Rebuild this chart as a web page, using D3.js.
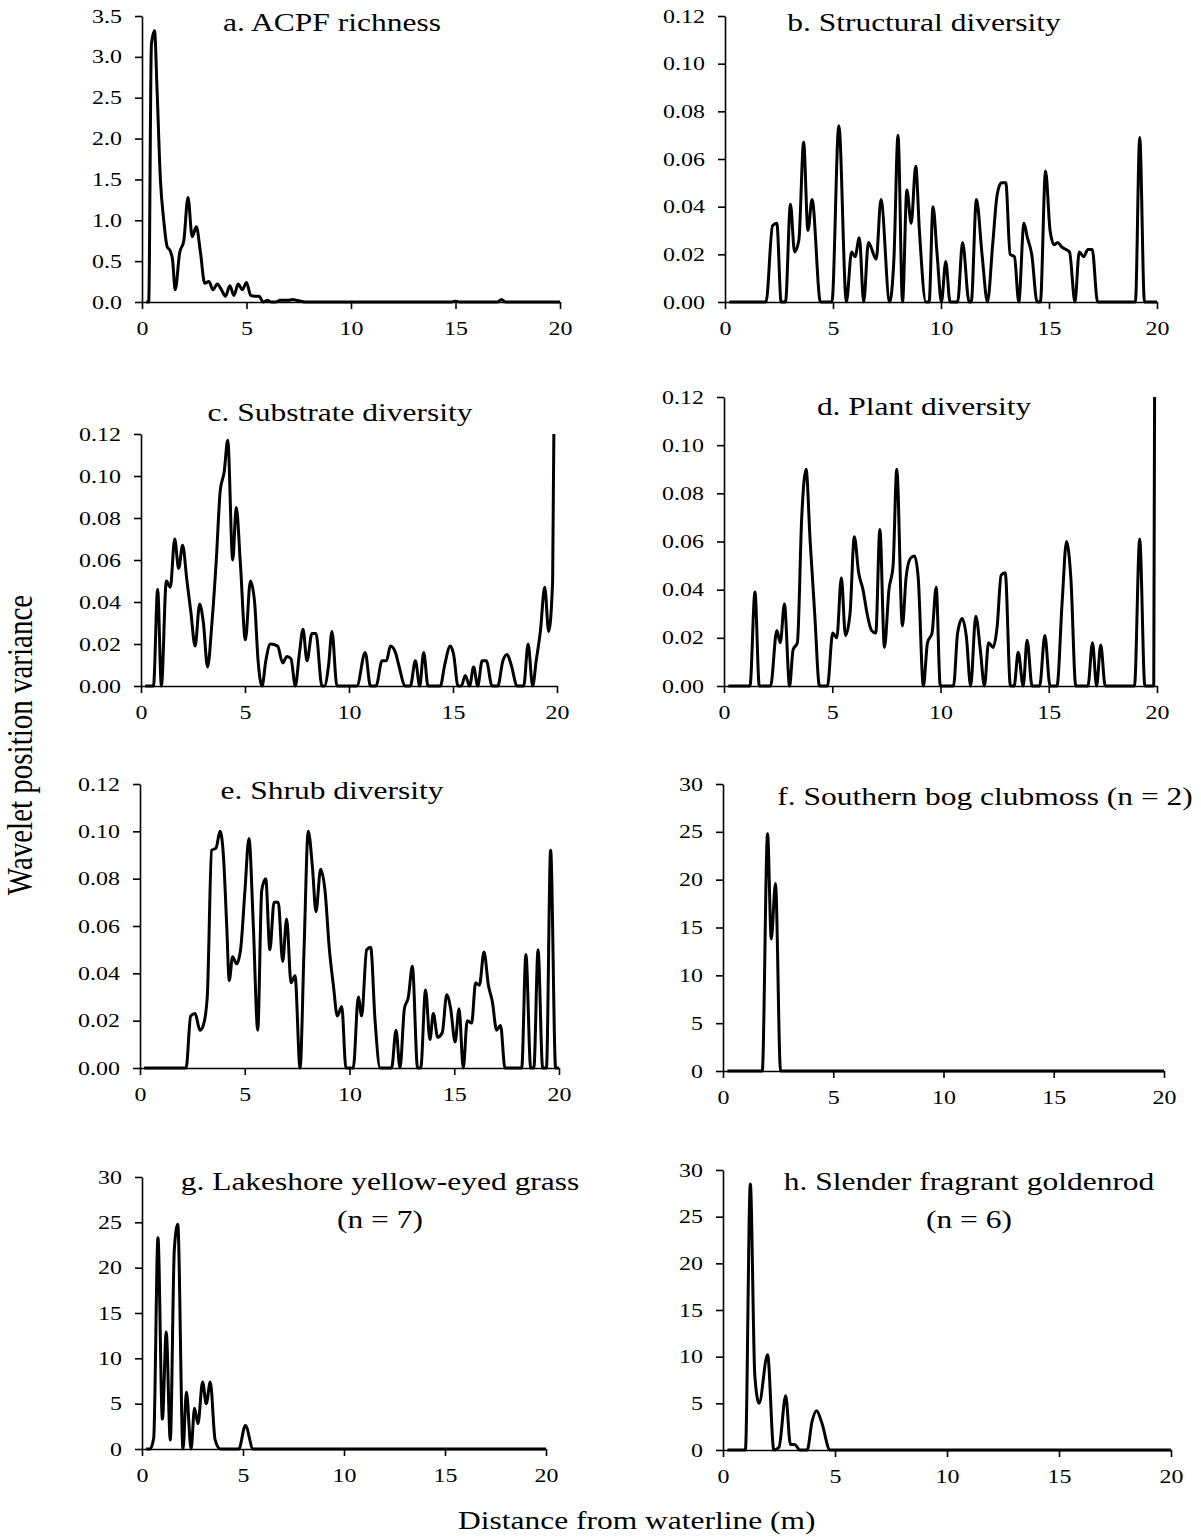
<!DOCTYPE html>
<html>
<head>
<meta charset="utf-8">
<script src="https://cdn.jsdelivr.net/npm/d3@7"></script>
<style>
  body { margin: 0; background: #fff; }
  svg { display: block; font-family: "Liberation Serif", "Times New Roman", serif; }
  .axis path, .axis line { stroke: #000; stroke-width: 1.6px; }
  .axis text { font-size: 19px; fill: #000; font-family: "Liberation Serif", serif; }
  .title { font-size: 25px; fill: #000; }
  .label { fill: #000; }
</style>
</head>
<body>
<svg id="chart" width="1201" height="1539"></svg>
<script>
"use strict";

// ---- data ----
var distanceTicks = [0, 5, 10, 15, 20]
var richnessTicks = [0, 0.5, 1, 1.5, 2, 2.5, 3, 3.5]
var diversityTicks = [0, 0.02, 0.04, 0.06, 0.08, 0.1, 0.12]
var speciesTicks = [0, 5, 10, 15, 20, 25, 30]

var panelTitles = [
  ["a. ACPF richness"],
  ["b. Structural diversity"],
  ["c. Substrate diversity"],
  ["d. Plant diversity"],
  ["e. Shrub diversity"],
  ["f. Southern bog clubmoss (n = 2)"],
  ["g. Lakeshore yellow-eyed grass", "(n = 7)"],
  ["h. Slender fragrant goldenrod", "(n = 6)"]
]

// [distance (m), wavelet position variance]
var acpfRichness = [[0.2,0],[0.32,0],[0.45,3.15],[0.6,3.32],[0.72,2.6],[0.88,1.5],[1.04,1.0],[1.2,0.68],[1.36,0.62],[1.46,0.52],[1.59,0.15],[1.8,0.6],[2.0,0.75],[2.2,1.28],[2.4,0.8],[2.6,0.92],[2.8,0.6],[3.0,0.23],[3.2,0.25],[3.4,0.15],[3.6,0.22],[3.8,0.15],[4.0,0.07],[4.2,0.2],[4.4,0.08],[4.6,0.22],[4.8,0.15],[5.0,0.24],[5.2,0.08],[5.4,0.07],[5.6,0.07],[5.8,0],[6.0,0.02],[6.2,0],[6.4,0],[6.6,0.02],[6.8,0.02],[7.0,0.02],[7.2,0.03],[7.4,0.02],[7.6,0.01],[7.8,0],[14.8,0],[15.0,0.01],[15.2,0],[17.0,0],[17.2,0.03],[17.4,0],[20,0]]

var structuralDiversity = [[0.2,0],[1.9,0],[2.2,0.032],[2.4,0.033],[2.6,0],[2.8,0],[3.03,0.041],[3.22,0.021],[3.42,0.026],[3.64,0.067],[3.84,0.03],[4.03,0.043],[4.42,0],[4.6,0],[4.95,0],[5.27,0.074],[5.62,0],[5.86,0.021],[6.02,0.019],[6.22,0.027],[6.42,0],[6.64,0.025],[7.0,0.018],[7.22,0.043],[7.62,0],[7.82,0.018],[8.01,0.07],[8.22,0],[8.42,0.047],[8.62,0.033],[8.83,0.057],[9.0,0.03],[9.3,0],[9.45,0],[9.63,0.04],[9.82,0.02],[10.02,0],[10.22,0.017],[10.42,0],[10.77,0],[11.0,0.025],[11.3,0],[11.4,0],[11.64,0.043],[11.9,0.02],[12.15,0],[12.4,0.025],[12.6,0.045],[12.8,0.05],[13.0,0.05],[13.2,0.02],[13.4,0.019],[13.6,0],[13.84,0.033],[14.0,0.027],[14.2,0.02],[14.45,0],[14.6,0],[14.84,0.055],[15.05,0.03],[15.24,0.024],[15.4,0.025],[15.6,0.023],[15.95,0.021],[16.2,0],[16.4,0.021],[16.6,0.019],[16.8,0.022],[17.0,0.022],[17.25,0],[19.0,0],[19.2,0.069],[19.42,0],[20,0]]

var substrateDiversity = [[0.2,0],[0.6,0],[0.8,0.046],[0.98,0],[1.22,0.05],[1.41,0.047],[1.62,0.07],[1.81,0.056],[2.0,0.067],[2.21,0.05],[2.4,0.035],[2.6,0.019],[2.82,0.039],[3.0,0.03],[3.2,0.009],[3.41,0.03],[3.62,0.06],[3.81,0.093],[4.0,0.102],[4.17,0.117],[4.41,0.06],[4.58,0.085],[4.78,0.058],[5.02,0.022],[5.26,0.05],[5.46,0.04],[5.63,0.012],[5.82,0],[6.0,0.012],[6.22,0.02],[6.57,0.019],[6.81,0.011],[7.02,0.014],[7.21,0.013],[7.42,0],[7.61,0.015],[7.79,0.027],[7.98,0.012],[8.22,0.025],[8.41,0.025],[8.7,0],[8.82,0],[9.02,0.01],[9.18,0.026],[9.42,0],[10.38,0],[10.78,0.016],[11.03,0],[11.3,0],[11.59,0.012],[11.8,0.012],[11.99,0.019],[12.23,0.016],[12.39,0.01],[12.71,0],[12.95,0],[13.19,0.012],[13.4,0],[13.59,0.016],[13.8,0],[14.39,0],[14.6,0.01],[14.87,0.019],[15.03,0.015],[15.24,0],[15.4,0],[15.59,0.005],[15.8,0],[15.99,0.009],[16.19,0],[16.4,0.012],[16.6,0.012],[16.88,0],[17.15,0],[17.4,0.012],[17.6,0.015],[17.8,0.01],[18.08,0],[18.4,0],[18.61,0.02],[18.83,0],[19.0,0.012],[19.2,0.026],[19.41,0.047],[19.6,0.026],[19.79,0.05],[20,0.3]]

var plantDiversity = [[0.2,0],[1.2,0],[1.43,0.039],[1.63,0],[2.15,0],[2.44,0.023],[2.6,0.018],[2.79,0.034],[3.03,0],[3.19,0.015],[3.39,0.018],[3.59,0.07],[3.79,0.09],[3.98,0.06],[4.19,0.03],[4.41,0],[4.78,0],[5.02,0.022],[5.21,0.02],[5.42,0.045],[5.61,0.021],[5.82,0.03],[6.02,0.062],[6.22,0.047],[6.42,0.04],[6.61,0.03],[6.82,0.023],[7.01,0.022],[7.2,0.065],[7.41,0.016],[7.62,0.04],[7.81,0.05],[7.98,0.09],[8.24,0.025],[8.41,0.045],[8.61,0.053],[8.8,0.054],[8.97,0.045],[9.21,0],[9.4,0.018],[9.61,0.022],[9.8,0.041],[9.99,0],[10.6,0],[10.79,0.022],[11.0,0.028],[11.2,0.02],[11.39,0],[11.63,0.029],[11.84,0.015],[12.03,0],[12.22,0.018],[12.43,0.016],[12.62,0.025],[12.8,0.046],[12.99,0.047],[13.23,0],[13.4,0],[13.59,0.014],[13.82,0],[14.0,0.019],[14.23,0],[14.58,0],[14.82,0.021],[15.06,0],[15.38,0],[15.62,0.035],[15.82,0.06],[16.02,0.045],[16.25,0],[16.81,0],[17.02,0.018],[17.21,0],[17.4,0.017],[17.61,0],[18.96,0],[19.2,0.061],[19.44,0],[19.85,0],[19.93,0.25]]

var shrubDiversity = [[0.2,0],[2.2,0],[2.42,0.022],[2.63,0.023],[2.86,0.016],[3.02,0.018],[3.21,0.03],[3.42,0.092],[3.63,0.093],[3.82,0.1],[3.98,0.09],[4.14,0.06],[4.26,0.037],[4.42,0.047],[4.61,0.044],[4.8,0.05],[5.01,0.075],[5.2,0.097],[5.41,0.06],[5.62,0.016],[5.81,0.075],[6.0,0.08],[6.2,0.05],[6.4,0.07],[6.6,0.07],[6.81,0.045],[7.0,0.063],[7.21,0.036],[7.4,0.039],[7.64,0],[7.83,0.05],[8.03,0.1],[8.23,0.085],[8.4,0.066],[8.62,0.084],[8.83,0.075],[9.04,0.05],[9.23,0.035],[9.42,0.022],[9.63,0.026],[9.83,0],[10.18,0],[10.42,0.03],[10.58,0.022],[10.82,0.05],[11.01,0.051],[11.22,0.02],[11.46,0],[12.01,0],[12.22,0.016],[12.41,0],[12.62,0.025],[12.81,0.03],[13.0,0.043],[13.25,0],[13.4,0],[13.63,0.033],[13.84,0.012],[14.0,0.023],[14.21,0.013],[14.43,0.015],[14.64,0.031],[14.83,0.025],[15.04,0.011],[15.23,0.025],[15.43,0],[15.62,0.02],[15.83,0.019],[16.02,0.036],[16.2,0.035],[16.42,0.049],[16.63,0.035],[16.82,0.028],[17.02,0.016],[17.21,0.018],[17.42,0],[18.22,0],[18.42,0.048],[18.65,0],[18.8,0],[19.0,0.05],[19.22,0],[19.4,0],[19.6,0.092],[19.84,0],[20,0]]

var bogClubmoss = [[0.2,0],[1.78,0],[2.02,24.8],[2.19,13.8],[2.38,19.6],[2.61,0],[20,0]]

var yellowEyedGrass = [[0.2,0],[0.4,0],[0.58,1.2],[0.79,23.3],[1.01,3.3],[1.2,12.9],[1.4,1],[1.6,22],[1.77,24.8],[2.03,0],[2.2,6.3],[2.43,0],[2.6,4.5],[2.77,2.8],[3.0,7.4],[3.18,5],[3.38,7.4],[3.62,1],[3.88,0],[4.79,0],[5.12,2.6],[5.5,0],[20,0]]

var fragrantGoldenrod = [[0.2,0],[1.0,0],[1.22,28.5],[1.42,8],[1.61,5],[1.99,10.2],[2.27,0],[2.5,0.3],[2.8,5.8],[3.01,0.6],[3.2,0.6],[3.43,0],[3.76,0],[3.97,3],[4.18,4.2],[4.4,3],[4.78,0],[20,0]]

// ---- layout of the eight panels (plot box in pixels) ----
var panels = [
  { series: acpfRichness,        ticks: richnessTicks,  fmt: ".1f", box: [142, 560, 16, 302],   title: [332, 31] },
  { series: structuralDiversity, ticks: diversityTicks, fmt: ".2f", box: [725, 1157, 16, 302],  title: [924, 31] },
  { series: substrateDiversity,  ticks: diversityTicks, fmt: ".2f", box: [141, 557, 434, 686],  title: [340, 421] },
  { series: plantDiversity,      ticks: diversityTicks, fmt: ".2f", box: [724, 1157, 397, 686], title: [924, 415] },
  { series: shrubDiversity,      ticks: diversityTicks, fmt: ".2f", box: [140, 559, 784, 1068], title: [332, 799] },
  { series: bogClubmoss,         ticks: speciesTicks,   fmt: "d",   box: [723, 1164, 784, 1071], title: [985, 805] },
  { series: yellowEyedGrass,     ticks: speciesTicks,   fmt: "d",   box: [142, 546, 1177, 1449], title: [380, 1190] },
  { series: fragrantGoldenrod,   ticks: speciesTicks,   fmt: "d",   box: [723, 1171, 1170, 1450], title: [969, 1190] }
]

// the source figure is a little wider than tall, its text too
var stretch = 1.26

/**
 * Draws one panel: axes, clipped curve and title
 *
 * @param svg    the root svg selection
 * @param p      panel description
 * @param i      panel index
 */
function drawPanel(svg, p, i) {
  var [left, right, top, bottom] = p.box

  var x = d3.scaleLinear().domain([0, 20]).range([left, right])
  var y = d3.scaleLinear().domain([0, d3.max(p.ticks)]).range([bottom, top])

  var g = svg.append("g").attr("class", "panel" + i)

  g.append("clipPath")
      .attr("id", "clip" + i)
    .append("rect")
      .attr("x", left - 10)
      .attr("y", top)
      .attr("width", right - left + 20)
      .attr("height", bottom - top + 20)

  var xAxis = g.append("g")
    .attr("class", "axis")
    .attr("transform", "translate(0," + bottom + ")")
    .call(d3.axisBottom(x).tickValues(distanceTicks).tickSize(7).tickSizeOuter(0).tickPadding(13))
  xAxis.selectAll("text").attr("transform", "scale(" + stretch + ",1)")

  var yAxis = g.append("g")
    .attr("class", "axis")
    .attr("transform", "translate(" + left + ",0)")
    .call(d3.axisLeft(y).tickValues(p.ticks).tickSize(7).tickSizeOuter(0).tickFormat(d3.format(p.fmt)))
  yAxis.selectAll("text")
    .attr("x", -20 / stretch)
    .attr("transform", "scale(" + stretch + ",1)")

  var line = d3.line()
    .x(d => x(d[0]))
    .y(d => y(d[1]))
    .curve(d3.curveMonotoneX)

  g.append("path")
    .datum(p.series)
    .attr("d", line)
    .attr("clip-path", "url(#clip" + i + ")")
    .attr("fill", "none")
    .attr("stroke", "#000")
    .attr("stroke-width", 3)
    .attr("stroke-linejoin", "round")

  g.append("text")
    .attr("class", "title")
    .attr("text-anchor", "middle")
    .attr("transform", "translate(" + p.title[0] + "," + p.title[1] + ") scale(" + stretch + ",1)")
    .selectAll("tspan")
    .data(panelTitles[i])
    .enter()
    .append("tspan")
      .attr("x", 0)
      .attr("y", (d, k) => k * 38)
      .text(d => d)
}

var svg = d3.select("#chart")

panels.forEach((p, i) => drawPanel(svg, p, i))

svg.append("text")
  .attr("class", "label")
  .attr("font-size", 29)
  .attr("text-anchor", "middle")
  .attr("transform", "translate(32,745) rotate(-90) scale(1," + stretch + ")")
  .text("Wavelet position variance")

svg.append("text")
  .attr("class", "label")
  .attr("font-size", 25)
  .attr("text-anchor", "start")
  .attr("transform", "translate(458,1529) scale(" + stretch + ",1)")
  .text("Distance from waterline (m)")
</script>
</body>
</html>
